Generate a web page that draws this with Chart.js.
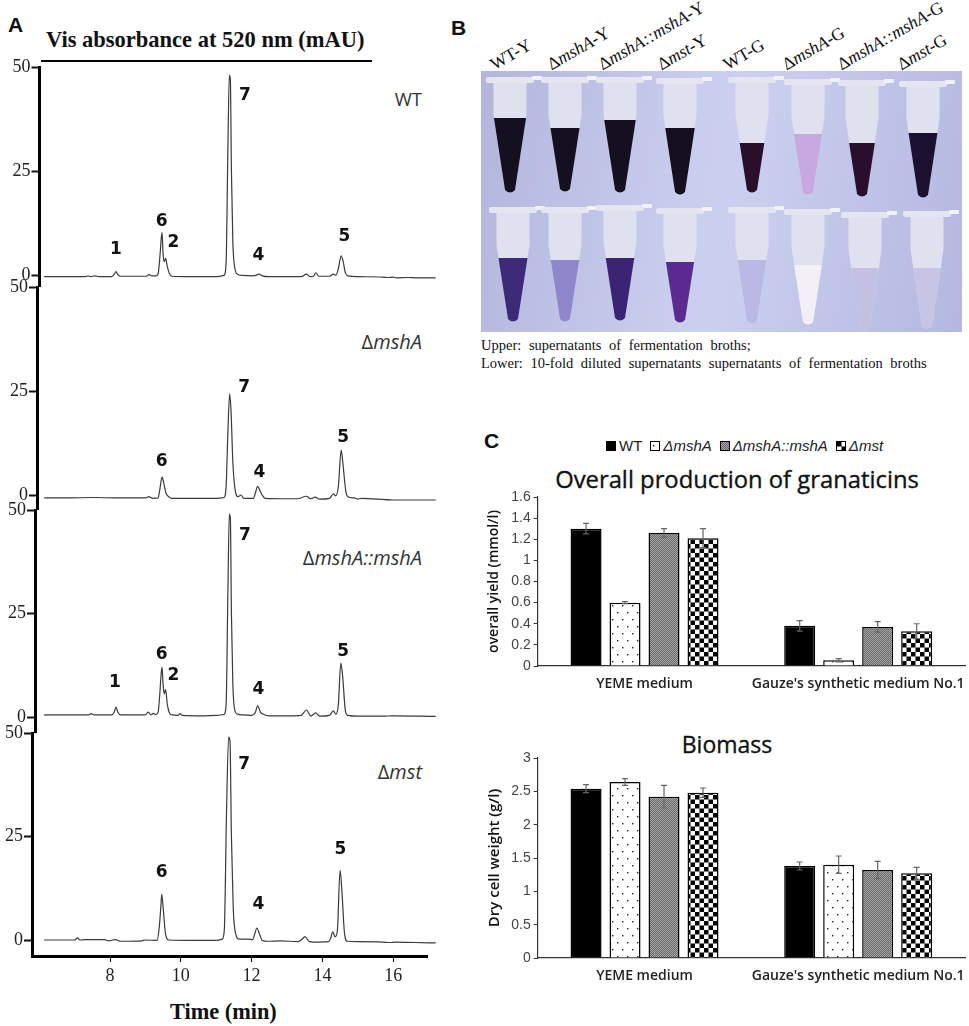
<!DOCTYPE html>
<html>
<head>
<meta charset="utf-8">
<title>Granaticin production</title>
<script src="https://cdn.jsdelivr.net/npm/chart.js@4/dist/chart.umd.js"></script>
<style>
html, body { margin: 0; padding: 0; background: #fff; overflow: hidden; }
#page { position: relative; width: 969px; height: 1026px; overflow: hidden; }
canvas { position: absolute; }
.txt { position: absolute; white-space: nowrap; color: #111; }
.letter { font: bold 21px "Liberation Sans"; line-height: 21px; }
.strain { font: 20px "Open Sans"; color: #333; right: 547px; line-height: 22px; }
.strain i { font-style: italic; }
.tube { font: 17.5px "Liberation Serif"; color: #111; transform-origin: 0 100%; transform: rotate(-30deg); line-height: 18px; }
.cap { font: 14.5px "Liberation Serif"; color: #111; left: 481px; word-spacing: 4px; }
.ctitle { color: #111; transform: translateX(-50%); line-height: 28px; -webkit-text-stroke: 0.35px #111; }
#legend { position: absolute; left: 606px; top: 437px; display: flex; align-items: center; font: 15px "Liberation Sans"; color: #222; }
#legend b { display: inline-block; width: 8px; height: 8px; border: 1px solid #000; margin-right: 3px; }
#legend span { margin-right: 8px; font-style: italic; }
</style>
</head>
<body>
<div id="page">
  <div class="txt letter" style="left:8px;top:14px">A</div>
  <div class="txt letter" style="left:451px;top:17px">B</div>
  <div class="txt letter" style="left:484px;top:430px">C</div>

  <div class="txt" style="left:46px;top:27px;font:bold 22.5px 'Liberation Serif'">Vis absorbance at 520 nm (mAU)</div>
  <div style="position:absolute;left:41px;top:60px;width:331px;height:2px;background:#000"></div>
  <div class="txt" style="left:170px;top:999px;font:bold 22.3px 'Liberation Serif'">Time (min)</div>

  <div class="txt strain" style="top:88px;font-size:18.5px">WT</div>
  <div class="txt strain" style="top:331px">&Delta;<i>mshA</i></div>
  <div class="txt strain" style="top:547px">&Delta;<i>mshA::mshA</i></div>
  <div class="txt strain" style="top:761px">&Delta;<i>mst</i></div>

  <div id="photo" style="position:absolute;left:481px;top:71px;width:481px;height:261px;background:linear-gradient(100deg,#b3b6dc,#ccd0f0 50%,#b4b8e0)"></div>

  <div class="txt cap" style="top:337px">Upper: supernatants of fermentation broths;</div>
  <div class="txt cap" style="top:355px">Lower: 10-fold diluted supernatants supernatants of fermentation broths</div>

  <div id="legend"></div>
  <div class="txt ctitle" style="left:737px;top:463px;font:23.8px 'Open Sans'">Overall production of granaticins</div>
  <div class="txt ctitle" style="left:727px;top:728px;font:23px 'Open Sans'">Biomass</div>

  <canvas id="trace1" width="450" height="237" style="left:0;top:50px"></canvas>
  <canvas id="trace2" width="450" height="240" style="left:0;top:270px"></canvas>
  <canvas id="trace3" width="450" height="240" style="left:0;top:493px"></canvas>
  <canvas id="trace4" width="450" height="310" style="left:0;top:716px"></canvas>
  <canvas id="yieldChart" width="499" height="215" style="left:470px;top:490px"></canvas>
  <canvas id="biomassChart" width="499" height="240" style="left:470px;top:750px"></canvas>
</div>

<script>
// chromatograms (min / mAU)
var wtTime = [6.14,7.3,7.38,7.46,7.58,7.7,8.05,8.12,8.17,8.22,8.3,9.03,9.1,9.18,9.3,9.36,9.41,9.45,9.47,9.5,9.53,9.57,9.62,9.68,9.75,10.3,11.0,11.22,11.28,11.33,11.37,11.4,11.43,11.47,11.53,11.6,11.75,12.0,12.12,12.21,12.3,12.5,13.4,13.55,13.65,13.75,13.81,13.9,14.2,14.31,14.38,14.45,14.53,14.58,14.65,14.72,15.0,15.72,15.85,16.0,16.1,16.4,16.7,17.2];
var wtAbs = [-0.4,-0.4,-0.2,-0.4,-0.2,-0.4,-0.4,0.2,0.8,0.1,-0.3,-0.3,0.1,-0.2,-0.2,0.3,4.5,9,10.2,5,3.2,4,2,0.3,-0.3,-0.4,-0.4,-0.1,3,30,48,47,25,8,1.5,0.2,-0.1,-0.2,-0.1,0.2,-0.2,-0.4,-0.4,0.2,-0.4,-0.3,0.55,-0.3,-0.3,0.2,-0.1,1.5,4.6,3.5,0.5,-0.2,-0.4,-0.5,-0.6,-0.5,-0.7,-0.6,-0.7,-0.7];

var mshTime = [6.14,6.75,7.5,8.25,9.0,9.1,9.2,9.36,9.41,9.47,9.52,9.58,9.66,9.75,11.0,11.22,11.28,11.33,11.38,11.42,11.47,11.53,11.62,11.7,11.78,12.05,12.11,12.17,12.23,12.3,12.38,13.0,13.3,13.55,13.66,13.8,13.92,14.2,14.31,14.37,14.45,14.53,14.58,14.66,14.72,14.9,15.0,15.1,16.0,17.2];
var mshAbs = [-0.7,-0.7,-0.6,-0.7,-0.7,-0.4,-0.8,-0.7,1.5,4.3,2.8,0.5,-0.4,-0.8,-0.8,-0.6,2,15,24.3,20,8,1.5,-0.4,0,-0.8,-0.8,0.6,2.1,1.2,0,-0.8,-0.9,-0.9,-0.3,-0.9,-0.5,-1,-0.8,0.3,-0.2,2,10.8,7.5,1,-0.4,-0.7,-1,-0.8,-1.2,-1.2];

var compTime = [6.14,7.4,7.47,7.55,8.05,8.12,8.17,8.22,8.3,9.0,9.08,9.16,9.22,9.3,9.36,9.41,9.45,9.47,9.5,9.53,9.57,9.62,9.68,9.76,9.92,9.98,10.04,10.6,11.0,11.22,11.28,11.33,11.37,11.4,11.43,11.47,11.53,11.6,11.75,12.0,12.1,12.17,12.25,12.35,12.5,13.08,13.4,13.55,13.67,13.81,13.93,14.2,14.31,14.38,14.45,14.52,14.57,14.65,14.72,15.0,15.7,16.0,17.2];
var compAbs = [0.5,0.5,0.8,0.5,0.5,1.2,2.4,1.2,0.5,0.5,1.2,0.5,0.9,0.6,1.2,6,11,12,8,5.6,6.6,3,1,0.5,0.4,0.8,0.4,0.3,0.4,0.6,3,30,49,48,25,8,1.5,0.7,0.5,0.4,1,2.7,1.2,0.6,0.3,0.3,0.4,1.7,0.2,1,0.2,0.4,1.5,0.7,3,13,10,1.5,0.4,0.2,0.2,0.3,0.15];

var mstTime = [6.14,7.0,7.08,7.15,7.3,7.85,7.95,8.15,8.3,8.9,9.0,9.33,9.39,9.44,9.46,9.5,9.56,9.66,10.4,11.0,11.17,11.23,11.29,11.35,11.39,11.43,11.48,11.55,11.65,11.9,12.03,12.09,12.15,12.22,12.3,12.45,12.8,13.3,13.4,13.51,13.62,13.75,14.18,14.24,14.29,14.36,14.42,14.5,14.55,14.62,14.7,15.0,15.7,15.9,16.1,16.6,17.2];
var mstAbs = [0,0,0.5,0,0.1,0.1,-0.2,0.1,-0.3,-0.2,0,-0.1,3,8.5,11,8,2,0,-0.1,-0.1,0.2,2.5,30,49,48,25,8,1.5,0.2,0.2,0.1,1.5,2.9,1.5,-0.1,-0.3,-0.2,-0.4,0,0.8,-0.3,-0.5,-0.4,0.6,2,0.8,2,16.8,12,2,-0.3,-0.4,-0.5,-0.6,-0.5,-0.6,-0.7];

// peak numbers and where they sit
var wtPeaks = ['1','6','2','7','4','5'];
var wtPeakT = [8.17,9.46,9.79,11.81,12.19,14.62];
var wtPeakY = [6.2,12.8,7.7,43.1,4.6,9.2];
var mshPeaks = ['6','7','4','5'];
var mshPeakT = [9.46,11.79,12.22,14.59];
var mshPeakY = [8.0,25.9,5.4,13.8];
var compPeaks = ['1','6','2','7','4','5'];
var compPeakT = [8.14,9.46,9.79,11.81,12.19,14.59];
var compPeakY = [8.2,15.1,9.9,43.9,6.7,15.7];
var mstPeaks = ['6','7','4','5'];
var mstPeakT = [9.46,11.79,12.19,14.51];
var mstPeakY = [16.2,42.3,8.5,21.9];

var absTicks = [0,25,50];
var timeTicks = [8,10,12,14,16];

// bar charts
var media = ['YEME medium', "Gauze's synthetic medium No.1"];
var strains = ['WT', '\u0394mshA', '\u0394mshA::mshA', '\u0394mst'];
var yieldWT = [1.30,0.38];
var yieldMsh = [0.60,0.055];
var yieldComp = [1.26,0.37];
var yieldMst = [1.21,0.33];
var yieldErrWT = [0.05,0.05];
var yieldErrMsh = [0.01,0.015];
var yieldErrComp = [0.04,0.05];
var yieldErrMst = [0.09,0.07];
var yieldTicks = [0,0.2,0.4,0.6,0.8,1,1.2,1.4,1.6];
var massWT = [2.54,1.38];
var massMsh = [2.64,1.40];
var massComp = [2.42,1.32];
var massMst = [2.48,1.27];
var massErrWT = [0.06,0.06];
var massErrMsh = [0.05,0.13];
var massErrComp = [0.17,0.13];
var massErrMst = [0.07,0.09];
var massTicks = [0,0.5,1,1.5,2,2.5,3];

Chart.defaults.animation = false;
Chart.defaults.responsive = false;

function zip(times, vals) {
    return times.map(function(t, i) { return {x: t, y: vals[i]}; });
}

// writes the peak numbers at their data positions
var peakLabels = {
    id: 'peakLabels',
    afterDatasetsDraw: function(chart, args, opts) {
        var ctx = chart.ctx;
        ctx.save();
        ctx.font = 'bold 17px "DejaVu Sans"';
        ctx.fillStyle = '#111';
        ctx.textAlign = 'center';
        ctx.textBaseline = 'middle';
        opts.names.forEach(function(n, i) {
            ctx.fillText(n, chart.scales.x.getPixelForValue(opts.times[i]), chart.scales.y.getPixelForValue(opts.heights[i]));
        });
        ctx.restore();
    }
};

function traceChart(id, times, vals, names, peakT, peakY, left, top, yMin, showTime) {
    var pxPerMin = 35.4;
    return new Chart(document.getElementById(id), {
        type: 'line',
        data: { datasets: [{
            data: zip(times, vals),
            borderColor: '#3a3a3a',
            borderWidth: 1.2,
            pointRadius: 0,
            cubicInterpolationMode: 'monotone',
            clip: false
        }]},
        plugins: [peakLabels],
        options: {
            layout: { autoPadding: false, padding: { top: top, right: 23, bottom: 0, left: 0 } },
            plugins: {
                legend: { display: false },
                tooltip: { enabled: false },
                peakLabels: { names: names, times: peakT, heights: peakY }
            },
            scales: {
                x: {
                    type: 'linear',
                    display: showTime,
                    min: 8 + (left - 110) / pxPerMin,
                    max: 8 + (427 - 110) / pxPerMin,
                    afterBuildTicks: function(s) { s.ticks = timeTicks.map(function(v) { return {value: v}; }); },
                    afterFit: function(s) {
                        s.height = showTime ? 70 : 0;
                        s.paddingLeft = s.paddingRight = 0;
                    },
                    border: { color: '#000', width: 3 },
                    grid: { drawOnChartArea: false, color: '#222', tickLength: 6, tickWidth: 1.2 },
                    ticks: { color: '#222', font: { family: 'Liberation Serif', size: 18 }, padding: 3, maxRotation: 0 }
                },
                y: {
                    min: yMin,
                    max: 50,
                    afterBuildTicks: function(s) { s.ticks = absTicks.map(function(v) { return {value: v}; }); },
                    afterFit: function(s) {
                        s.width = left;
                        s.paddingTop = s.paddingBottom = 0;
                    },
                    border: { color: '#000', width: 3 },
                    grid: { drawOnChartArea: false, color: '#111', tickLength: 8, tickWidth: 2 },
                    ticks: { color: '#222', font: { family: 'Liberation Serif', size: 18 }, padding: 1 }
                }
            }
        }
    });
}

traceChart('trace1', wtTime, wtAbs, wtPeaks, wtPeakT, wtPeakY, 39.5, 17, -2.88, false);
traceChart('trace2', mshTime, mshAbs, mshPeaks, mshPeakT, mshPeakY, 37, 17, -3.6, false);
traceChart('trace3', compTime, compAbs, compPeaks, compPeakT, compPeakY, 35, 17, -3.86, false);
traceChart('trace4', mstTime, mstAbs, mstPeaks, mstPeakT, mstPeakY, 32, 17, -3.86, true);

// bar fills
function makePattern(w, h, paint) {
    var c = document.createElement('canvas');
    c.width = w; c.height = h;
    paint(c.getContext('2d'));
    return c;
}
var tileBlack = makePattern(4, 4, function(g) { g.fillStyle = '#000'; g.fillRect(0, 0, 4, 4); });
var tileDots = makePattern(10, 14, function(g) {
    g.fillStyle = '#fff'; g.fillRect(0, 0, 10, 14);
    g.fillStyle = '#222';
    g.fillRect(2, 3, 1.4, 1.4);
    g.fillRect(7, 10, 1.4, 1.4);
});
var tileGrey = makePattern(2, 2, function(g) {
    g.fillStyle = '#666'; g.fillRect(0, 0, 2, 2);
    g.fillStyle = '#a8a8a8'; g.fillRect(0, 0, 1, 1); g.fillRect(1, 1, 1, 1);
});
var tileCheck = makePattern(9, 9, function(g) {
    g.fillStyle = '#fff'; g.fillRect(0, 0, 9, 9);
    g.fillStyle = '#000'; g.fillRect(0, 0, 4.5, 4.5); g.fillRect(4.5, 4.5, 4.5, 4.5);
});
var tiles = [tileBlack, tileDots, tileGrey, tileCheck];

var legendBox = document.getElementById('legend');
strains.forEach(function(name, i) {
    var swatch = document.createElement('b');
    swatch.style.backgroundImage = 'url(' + tiles[i].toDataURL() + ')';
    var label = document.createElement('span');
    label.textContent = name;
    if (i == 0) label.style.fontStyle = 'normal';
    legendBox.appendChild(swatch);
    legendBox.appendChild(label);
});

// error bars taken from the dataset's err array
var errorBars = {
    id: 'errorBars',
    afterDatasetsDraw: function(chart) {
        var ctx = chart.ctx, y = chart.scales.y;
        ctx.save();
        ctx.strokeStyle = '#666';
        ctx.lineWidth = 1.2;
        chart.data.datasets.forEach(function(ds, d) {
            chart.getDatasetMeta(d).data.forEach(function(bar, i) {
                var hi = y.getPixelForValue(ds.data[i] + ds.err[i]);
                var lo = y.getPixelForValue(ds.data[i] - ds.err[i]);
                ctx.beginPath();
                ctx.moveTo(bar.x, hi); ctx.lineTo(bar.x, lo);
                ctx.moveTo(bar.x - 3, hi); ctx.lineTo(bar.x + 3, hi);
                ctx.moveTo(bar.x - 3, lo); ctx.lineTo(bar.x + 3, lo);
                ctx.stroke();
            });
        });
        ctx.restore();
    }
};

function barChart(id, series, errs, tickVals, yMax, axisName, axisSize, top, xHeight) {
    var ctx = document.getElementById(id).getContext('2d');
    return new Chart(ctx, {
        type: 'bar',
        data: {
            labels: media,
            datasets: series.map(function(vals, i) {
                return {
                    label: strains[i],
                    data: vals,
                    err: errs[i],
                    backgroundColor: ctx.createPattern(tiles[i], 'repeat'),
                    borderColor: '#000',
                    borderWidth: 1.5,
                    categoryPercentage: 0.73,
                    barPercentage: 0.795
                };
            })
        },
        plugins: [errorBars],
        options: {
            layout: { autoPadding: false, padding: { top: top, right: 4, bottom: 0, left: 0 } },
            plugins: { legend: { display: false }, tooltip: { enabled: false } },
            scales: {
                x: {
                    afterFit: function(s) {
                        s.height = xHeight;
                        s.paddingLeft = s.paddingRight = 0;
                    },
                    border: { color: '#333', width: 1.3 },
                    grid: { display: false },
                    ticks: { color: '#222', font: { family: 'Open Sans', size: 14, weight: '600' }, padding: 2, maxRotation: 0, autoSkip: false }
                },
                y: {
                    min: 0,
                    max: yMax,
                    afterBuildTicks: function(s) { s.ticks = tickVals.map(function(v) { return {value: v}; }); },
                    afterFit: function(s) {
                        s.width = 67.7;
                        s.paddingTop = s.paddingBottom = 0;
                    },
                    border: { color: '#333', width: 1.2 },
                    grid: { drawOnChartArea: false, color: '#333', tickLength: 4, tickWidth: 1 },
                    ticks: {
                        color: '#444',
                        font: { family: 'Liberation Sans', size: 14 },
                        padding: 3,
                        callback: function(v) { return String(v); }
                    },
                    title: {
                        display: true,
                        text: axisName,
                        color: '#111',
                        font: { family: 'Open Sans', size: axisSize, weight: '600' },
                        padding: { top: 16, bottom: 0 }
                    }
                }
            }
        }
    });
}

barChart('yieldChart', [yieldWT, yieldMsh, yieldComp, yieldMst],
    [yieldErrWT, yieldErrMsh, yieldErrComp, yieldErrMst], yieldTicks, 1.6, 'overall yield (mmol/l)', 14, 7, 39);
barChart('biomassChart', [massWT, massMsh, massComp, massMst],
    [massErrWT, massErrMsh, massErrComp, massErrMst], massTicks, 3, 'Dry cell weight (g/l)', 15, 8, 32);

// stand-in for the tube photograph
var tubeX = [[510,565,620,680,752,808,862,923],[513,565,620,680,752,808,865,927]];
var tubeCap = [[77,77,77,78,77,79,80,81],[207,207,205,208,207,209,212,211]];
var tubeLevel = [[118,128,120,128,143,134,143,133],[258,260,258,262,260,265,268,268]];
var tubeTip = [[193,192,193,195,193,195,197,198],[322,322,321,323,324,325,330,329]];
var tubeColor = [['#15101f','#15101f','#15101f','#15101f','#2a0f2c','#c9a8e0','#2a0e2e','#1c1030'],
                 ['#3c2a78','#8f86cc','#3a2474','#5a2a90','#bcb8e6','#f2f0f6','#c4c0e4','#c8c4e6']];

var photo = document.getElementById('photo');
var svg = '<svg xmlns="http://www.w3.org/2000/svg" width="481" height="261" viewBox="481 71 481 261">';
tubeX.forEach(function(row, r) {
    row.forEach(function(cx, i) {
        var top = tubeCap[r][i], tip = tubeTip[r][i], lvl = tubeLevel[r][i], sh = top + 38;
        var half = lvl <= sh ? 16.5 : 16.5 - (lvl - sh) / (tip - sh) * 11.5;
        var end = 'L' + (cx - 5) + ' ' + (tip - 3) + 'Q' + cx + ' ' + (tip + 2) + ' ' + (cx + 5) + ' ' + (tip - 3);
        svg += '<path d="M' + (cx - 16.5) + ' ' + (top + 5) + 'L' + (cx - 16.5) + ' ' + sh + end +
            'L' + (cx + 16.5) + ' ' + sh + 'L' + (cx + 16.5) + ' ' + (top + 5) + 'Z" fill="#dfe1ee"/>';
        svg += '<path d="M' + (cx - half) + ' ' + lvl + end + 'L' + (cx + half) + ' ' + lvl + 'Z" fill="' + tubeColor[r][i] + '"/>';
        svg += '<rect x="' + (cx - 24) + '" y="' + top + '" width="48" height="6" rx="2" fill="#e4e5ee"/>';
        svg += '<rect x="' + (cx + 22) + '" y="' + (top - 1) + '" width="10" height="4" rx="1" fill="#f2f2f6"/>';
    });
});
photo.innerHTML = svg + '</svg>';

// rotated tube names above the photo
var tubeNames = [['','WT-Y',496],['\u0394','mshA-Y',553],['\u0394','mshA::mshA-Y',604],['\u0394','mst-Y',663],
                 ['','WT-G',729],['\u0394','mshA-G',788],['\u0394','mshA::mshA-G',843],['\u0394','mst-G',903]];
var pg = document.getElementById('page');
tubeNames.forEach(function(t) {
    var d = document.createElement('div');
    d.className = 'txt tube';
    d.style.left = t[2] + 'px';
    d.style.top = '55px';
    if (t[0]) {
        d.innerHTML = t[0] + '<i>' + t[1].replace(/-(.)$/, '</i>-$1');
    } else {
        d.textContent = t[1];
    }
    pg.appendChild(d);
});
</script>
</body>
</html>
